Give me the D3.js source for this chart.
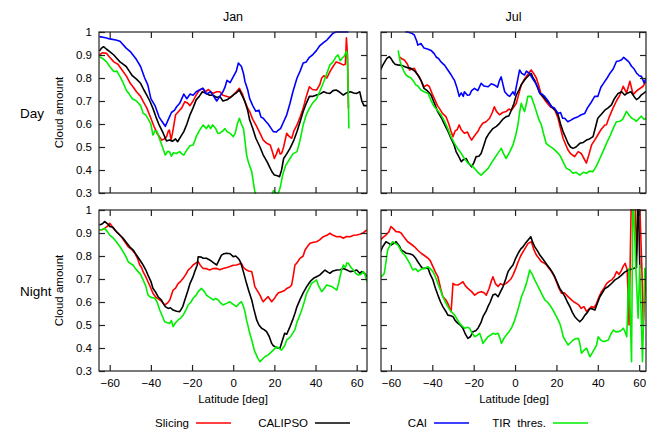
<!DOCTYPE html>
<html><head><meta charset="utf-8">
<script src="https://cdn.jsdelivr.net/npm/d3@7"></script>
<style>
body{margin:0;background:#fff}
svg{display:block}
text{font-family:"Liberation Sans",Arial,Helvetica,sans-serif;fill:#000}
</style>
</head><body>
<svg id="chart" width="647" height="434"></svg>
<script>
// ---------- data ----------
const latTicks = [-60, -40, -20, 0, 20, 40, 60];
const cloudTicks = [0.3, 0.4, 0.5, 0.6, 0.7, 0.8, 0.9, 1];
const columnTitles = ["Jan", "Jul"];
const rowTitles = ["Day", "Night"];
const seriesNames = ["Slicing", "CALIPSO", "CAI", "TIR  thres."];
const seriesColors = ["#ff0000", "#000000", "#0000ff", "#00ee00"];

// Jan, Day
const janDaySlicing = [[-65,0.90],[-63.5,0.91],[-61.5,0.907],[-60,0.89],[-58,0.87],[-56,0.86],[-53.5,0.828],[-52,0.81],[-50,0.777],[-48.5,0.76],[-47,0.74],[-45,0.72],[-43.7,0.697],[-42,0.67],[-40,0.625],[-38.5,0.59],[-37,0.56],[-35.5,0.54],[-34.7,0.53],[-33.5,0.535],[-32.4,0.545],[-31.5,0.57],[-31,0.574],[-30.2,0.53],[-29.5,0.56],[-28,0.64],[-27,0.65],[-26,0.66],[-25,0.67],[-23.5,0.697],[-22,0.69],[-21,0.68],[-19.5,0.70],[-18,0.726],[-16.5,0.745],[-15,0.755],[-13.5,0.74],[-12,0.75],[-10,0.733],[-8,0.74],[-6.5,0.74],[-5,0.725],[-3,0.72],[-1.5,0.715],[0,0.726],[1.5,0.74],[3,0.755],[4.5,0.73],[5.7,0.697],[7,0.67],[8,0.654],[9.5,0.62],[11,0.596],[13,0.56],[14.6,0.53],[16.5,0.515],[18,0.509],[19,0.48],[20,0.45],[21,0.47],[22,0.494],[22.8,0.47],[23.5,0.472],[24.5,0.50],[26,0.56],[27.3,0.545],[28.4,0.538],[29.5,0.57],[31,0.596],[32.5,0.63],[34,0.668],[35.5,0.72],[37,0.762],[38.5,0.75],[40.5,0.748],[42,0.77],[43,0.80],[44,0.81],[45.5,0.80],[47,0.828],[48.5,0.85],[50,0.87],[51.5,0.865],[53.5,0.857],[54.5,0.86],[55,0.975],[55.5,0.90],[56,0.668]];
const janDayCALIPSO = [[-65,0.917],[-64,0.93],[-63,0.936],[-61.5,0.925],[-60,0.915],[-58,0.90],[-56.5,0.885],[-55,0.87],[-53.5,0.86],[-52,0.85],[-50.5,0.83],[-49,0.81],[-47,0.795],[-45,0.777],[-43.5,0.75],[-42,0.726],[-40.5,0.70],[-39,0.668],[-37.5,0.63],[-36,0.596],[-34,0.56],[-32.4,0.526],[-31,0.53],[-29.5,0.525],[-28,0.535],[-27,0.523],[-25.5,0.545],[-24,0.567],[-22.5,0.60],[-21,0.64],[-19.5,0.67],[-18,0.705],[-16.5,0.72],[-15,0.74],[-13,0.733],[-11.5,0.725],[-10,0.726],[-8,0.715],[-6.5,0.72],[-5,0.70],[-3,0.705],[-1.5,0.715],[0,0.726],[1.5,0.735],[3,0.748],[4.5,0.72],[5.7,0.697],[7,0.66],[8,0.617],[9.5,0.58],[11,0.538],[13,0.50],[14.6,0.465],[16.5,0.435],[18,0.407],[19,0.39],[20,0.378],[21.5,0.375],[22.5,0.371],[23.5,0.40],[24.5,0.45],[26,0.47],[27.6,0.494],[29.5,0.53],[31,0.567],[32.5,0.61],[34,0.654],[35.5,0.69],[37,0.72],[38.5,0.72],[40.5,0.726],[42,0.73],[44,0.74],[45.5,0.735],[47,0.733],[48.5,0.745],[50,0.748],[51.5,0.74],[53.5,0.726],[55,0.735],[57,0.74],[58.5,0.735],[60,0.733],[61.5,0.74],[62.5,0.70],[63.5,0.68],[65,0.68]];
const janDayCAI = [[-65,0.98],[-62,0.975],[-60,0.97],[-57,0.965],[-55,0.96],[-52,0.93],[-50,0.915],[-47,0.88],[-45,0.85],[-43,0.80],[-41.5,0.77],[-40,0.71],[-38,0.68],[-36,0.63],[-34.5,0.61],[-33,0.59],[-31.5,0.62],[-30,0.65],[-28.5,0.66],[-27.5,0.675],[-26,0.69],[-24,0.73],[-22.5,0.71],[-21,0.73],[-19.5,0.725],[-18,0.74],[-16,0.75],[-14.6,0.755],[-13,0.73],[-11,0.74],[-9.5,0.72],[-8,0.70],[-6.5,0.72],[-5,0.74],[-4,0.76],[-3,0.79],[-1.5,0.78],[0,0.805],[1.5,0.83],[2.5,0.865],[4,0.85],[5,0.82],[5.7,0.785],[7,0.75],[8,0.71],[9.5,0.68],[11,0.655],[12.5,0.66],[13.5,0.63],[14.6,0.625],[16,0.61],[17,0.60],[18.5,0.58],[19.5,0.567],[21,0.565],[22,0.574],[23,0.58],[24,0.60],[26,0.64],[27.6,0.69],[29,0.74],[31,0.80],[32.5,0.83],[34,0.865],[35.5,0.87],[37,0.89],[38.5,0.90],[40.5,0.92],[42,0.94],[44,0.955],[45.5,0.965],[47,0.98],[48.5,0.995],[50,1.0],[53,1.0],[56,1.0]];
const janDayTIR = [[-65,0.893],[-63.5,0.885],[-61.5,0.87],[-60,0.85],[-58,0.828],[-56.5,0.83],[-55,0.806],[-53.5,0.78],[-52,0.748],[-50.5,0.73],[-49,0.71],[-47,0.70],[-45,0.68],[-43.7,0.646],[-42.5,0.64],[-41,0.617],[-40,0.60],[-39,0.552],[-38,0.57],[-37,0.567],[-36,0.54],[-35,0.516],[-34,0.49],[-33,0.465],[-32,0.48],[-31,0.48],[-30,0.46],[-29,0.475],[-27.6,0.472],[-26,0.48],[-25,0.47],[-24,0.465],[-23,0.48],[-22,0.494],[-21,0.505],[-19.5,0.509],[-18.5,0.53],[-18,0.545],[-16.5,0.57],[-14.6,0.596],[-13,0.58],[-12,0.595],[-11,0.58],[-10,0.596],[-8.5,0.58],[-7.5,0.56],[-6.5,0.56],[-5,0.57],[-4,0.58],[-3,0.567],[-1.5,0.56],[0,0.545],[1,0.56],[2,0.60],[3,0.625],[4,0.60],[5,0.58],[5.8,0.52],[6.5,0.465],[7.5,0.43],[9,0.393],[10.5,0.306],[12,0.27],[15,0.25],[18,0.27],[19.5,0.31],[20.5,0.30],[22,0.30],[23,0.33],[24,0.378],[25.5,0.42],[27.6,0.45],[29,0.47],[31,0.48],[32.5,0.53],[34,0.596],[35.5,0.64],[37,0.668],[38.5,0.69],[40.5,0.71],[42,0.74],[44,0.784],[45.5,0.82],[47,0.857],[48.5,0.87],[50,0.893],[51,0.90],[52,0.875],[53,0.887],[54,0.895],[55,0.917],[55.5,0.90],[56.2,0.58]];

// Jul, Day
const julDaySlicing = [[-56,0.893],[-55,0.885],[-53.5,0.878],[-52,0.86],[-51,0.835],[-49.5,0.84],[-48.7,0.842],[-47.5,0.82],[-46.3,0.806],[-45,0.78],[-44,0.762],[-42.5,0.77],[-41.4,0.762],[-40,0.73],[-39,0.71],[-37.5,0.68],[-36.6,0.668],[-35,0.645],[-33.4,0.632],[-32,0.60],[-31,0.57],[-30,0.545],[-29,0.57],[-28,0.575],[-27,0.596],[-26,0.575],[-24.5,0.56],[-23,0.565],[-22,0.545],[-21,0.53],[-19.5,0.55],[-18,0.567],[-17,0.585],[-15.6,0.603],[-14,0.61],[-12.3,0.625],[-11,0.65],[-10,0.675],[-9,0.655],[-7.5,0.64],[-6,0.65],[-4.3,0.654],[-3,0.665],[-1.8,0.66],[-0.5,0.675],[0.6,0.69],[1.8,0.73],[3,0.77],[4.2,0.79],[5.4,0.806],[6.5,0.82],[7.8,0.835],[9,0.82],[10.3,0.80],[11.5,0.765],[12.7,0.726],[14,0.71],[15,0.697],[17,0.675],[18.4,0.668],[19.5,0.655],[20.8,0.625],[22,0.58],[23.2,0.538],[24.5,0.51],[25.6,0.487],[27,0.47],[28.8,0.458],[30.5,0.48],[32,0.472],[33.3,0.45],[34.5,0.43],[35.8,0.47],[37,0.509],[38.5,0.53],[40,0.552],[41.5,0.575],[43.4,0.596],[44.2,0.597],[45.5,0.63],[47.4,0.67],[49,0.70],[50.7,0.727],[52.3,0.764],[53.9,0.735],[55.5,0.786],[57.1,0.727],[58.3,0.74],[59.5,0.749],[61.9,0.764],[63.3,0.786]];
const julDayCALIPSO = [[-65,0.835],[-64,0.855],[-63,0.87],[-62,0.885],[-60.8,0.893],[-60,0.885],[-59,0.87],[-58,0.86],[-56.8,0.857],[-55,0.855],[-53.5,0.85],[-52,0.845],[-50.3,0.842],[-48.5,0.83],[-47,0.813],[-45.5,0.79],[-44,0.755],[-42.5,0.745],[-40.6,0.726],[-39,0.69],[-37.4,0.654],[-35.5,0.625],[-34,0.596],[-32.5,0.57],[-31,0.538],[-29.5,0.51],[-28.5,0.48],[-27,0.455],[-26,0.436],[-25,0.445],[-23.6,0.45],[-22.5,0.43],[-21,0.414],[-20,0.43],[-18.8,0.458],[-17.5,0.46],[-16.4,0.472],[-15,0.51],[-14,0.538],[-12.5,0.56],[-10.7,0.58],[-9,0.59],[-7.5,0.603],[-6,0.62],[-4.3,0.632],[-3,0.635],[-1.8,0.66],[-0.5,0.69],[0.6,0.726],[2,0.75],[3,0.77],[4.5,0.79],[5.4,0.80],[6.5,0.81],[7.8,0.82],[8.7,0.80],[9.5,0.79],[10.8,0.76],[12,0.733],[13.5,0.72],[15,0.705],[17,0.685],[18.4,0.668],[19.5,0.66],[20.8,0.64],[22,0.60],[23.2,0.567],[24.5,0.54],[25.6,0.516],[26.8,0.50],[28,0.494],[29.5,0.50],[31.3,0.516],[33,0.52],[34.5,0.53],[36,0.535],[37.7,0.545],[39,0.59],[40,0.625],[41.5,0.64],[43.4,0.66],[45,0.67],[46.6,0.683],[48,0.71],[49.8,0.733],[51.5,0.74],[53,0.726],[54.5,0.735],[56,0.74],[57.5,0.72],[58.7,0.706],[60,0.715],[61.1,0.727],[62.4,0.735],[63.3,0.742]];
const julDayCAI = [[-53,1.0],[-51.9,1.0],[-50,0.995],[-48.7,0.987],[-47.5,0.96],[-47,0.943],[-45.5,0.95],[-44,0.93],[-42,0.925],[-40.6,0.92],[-39,0.905],[-38,0.89],[-37,0.885],[-35.8,0.87],[-34,0.855],[-32.5,0.835],[-31,0.815],[-29.3,0.79],[-28,0.755],[-27,0.72],[-26,0.735],[-25,0.72],[-24.5,0.74],[-23,0.725],[-22,0.726],[-21,0.745],[-19.6,0.755],[-18,0.745],[-16.4,0.777],[-15,0.765],[-13,0.762],[-11.5,0.775],[-10,0.77],[-8.5,0.76],[-7.5,0.79],[-6.7,0.805],[-5.8,0.77],[-5,0.74],[-3.5,0.725],[-2.6,0.72],[-1,0.74],[-0.2,0.726],[1,0.78],[2.2,0.835],[3.2,0.82],[4.6,0.813],[5.5,0.83],[7,0.82],[8.3,0.80],[9.5,0.784],[11,0.76],[12,0.733],[13,0.73],[14.3,0.72],[16,0.70],[17.5,0.675],[19,0.67],[20.8,0.646],[22,0.65],[23,0.625],[24,0.625],[25.5,0.61],[27,0.617],[28.5,0.625],[30.5,0.632],[32,0.64],[33.7,0.646],[35,0.67],[37,0.697],[38.5,0.72],[40,0.72],[41.5,0.76],[43,0.78],[44.5,0.80],[46,0.822],[47.5,0.84],[49,0.872],[50.5,0.875],[51.5,0.879],[52.5,0.89],[53.9,0.879],[55,0.87],[56.3,0.851],[57.5,0.84],[58.7,0.822],[60,0.81],[61.1,0.807],[62.4,0.778],[63.3,0.80]];
const julDayTIR = [[-56.5,0.92],[-55.5,0.87],[-55,0.857],[-53.8,0.83],[-52.7,0.813],[-51.5,0.805],[-50.3,0.80],[-49,0.785],[-48,0.77],[-47,0.765],[-45.5,0.748],[-44,0.74],[-42,0.733],[-40.5,0.70],[-39,0.675],[-37.5,0.66],[-35.8,0.64],[-34,0.61],[-32.5,0.58],[-31,0.545],[-29.3,0.516],[-27.5,0.49],[-26,0.472],[-24.5,0.45],[-22.8,0.43],[-21,0.42],[-19.6,0.407],[-18,0.39],[-16.4,0.378],[-15,0.39],[-13,0.407],[-11.5,0.43],[-10,0.45],[-8.5,0.47],[-6.7,0.494],[-5.5,0.47],[-4.3,0.45],[-2.5,0.48],[-1,0.509],[0.3,0.55],[1.4,0.596],[2.2,0.65],[3,0.69],[3.8,0.67],[4.6,0.654],[5.5,0.69],[6.2,0.72],[7.8,0.72],[9,0.69],[10.3,0.654],[11.5,0.62],[12.7,0.596],[14,0.55],[15,0.516],[16.5,0.505],[18.4,0.494],[20,0.48],[21.6,0.465],[23,0.44],[24.8,0.407],[26.5,0.40],[28,0.386],[29.5,0.39],[31.3,0.378],[33,0.39],[34.5,0.386],[36,0.395],[37.7,0.393],[39.5,0.42],[41,0.45],[42.5,0.48],[44.2,0.516],[46,0.55],[47.4,0.58],[49,0.61],[50.7,0.612],[52,0.62],[53.9,0.655],[55,0.64],[56.3,0.626],[57.5,0.62],[58.7,0.612],[60,0.625],[61.1,0.634],[62.4,0.62],[63.3,0.625]];

// Jan, Night
const janNightSlicing = [[-65,0.913],[-63.5,0.915],[-62.5,0.92],[-61,0.93],[-60,0.942],[-59,0.93],[-57.6,0.913],[-56,0.90],[-54.3,0.884],[-52.5,0.86],[-51,0.84],[-49.5,0.83],[-47.8,0.812],[-46.5,0.79],[-45.4,0.761],[-44.5,0.75],[-43.8,0.732],[-42.5,0.71],[-41.4,0.688],[-40,0.66],[-39,0.638],[-37.5,0.62],[-35.7,0.609],[-34.5,0.60],[-33.3,0.587],[-32,0.595],[-30.8,0.609],[-30,0.63],[-29.2,0.652],[-28,0.66],[-26.8,0.68],[-25.5,0.69],[-24.3,0.703],[-23,0.72],[-21.9,0.739],[-20.5,0.75],[-19.5,0.761],[-18,0.77],[-17,0.775],[-16,0.76],[-14.6,0.746],[-13,0.745],[-11.4,0.739],[-10,0.745],[-8,0.746],[-6.5,0.74],[-4.9,0.746],[-3,0.75],[-1.6,0.754],[0,0.76],[1.6,0.761],[3,0.765],[4,0.768],[5,0.75],[6.5,0.739],[7.5,0.735],[9,0.732],[9.8,0.70],[10.5,0.667],[12,0.645],[13,0.63],[14,0.61],[14.6,0.601],[16,0.615],[17,0.623],[18,0.61],[18.7,0.601],[20,0.615],[21,0.63],[22,0.64],[23.5,0.645],[25,0.65],[26,0.659],[27.5,0.665],[28.4,0.674],[29.3,0.72],[30,0.761],[31,0.77],[32.4,0.79],[34,0.80],[34.9,0.826],[36,0.84],[37.3,0.855],[39,0.86],[40.5,0.862],[42,0.87],[43.8,0.884],[45.5,0.89],[47,0.899],[48.5,0.89],[50.3,0.884],[52,0.885],[53.5,0.877],[55,0.885],[56.8,0.884],[58.5,0.89],[60,0.891],[61.5,0.895],[63,0.90],[65,0.913]];
const janNightCALIPSO = [[-65,0.935],[-63.5,0.94],[-62.5,0.95],[-61,0.94],[-60,0.928],[-58.5,0.925],[-56.8,0.906],[-55,0.89],[-53.5,0.877],[-52,0.86],[-50.3,0.84],[-48.5,0.825],[-47,0.804],[-45.5,0.785],[-43.8,0.761],[-42.5,0.74],[-41.4,0.717],[-40,0.69],[-39,0.66],[-37.5,0.64],[-36.5,0.623],[-35,0.61],[-34,0.594],[-33,0.58],[-31.6,0.572],[-30.5,0.575],[-29.2,0.565],[-27.5,0.56],[-26,0.558],[-24.5,0.58],[-23.5,0.609],[-22,0.65],[-21,0.68],[-19.5,0.71],[-18.7,0.732],[-17.5,0.76],[-17,0.797],[-15.5,0.795],[-14.6,0.79],[-13,0.79],[-11.4,0.783],[-9.5,0.77],[-8,0.761],[-7,0.78],[-5.7,0.804],[-4.5,0.81],[-3.2,0.812],[-1.5,0.81],[0,0.797],[1.2,0.80],[2.4,0.79],[3.2,0.78],[4,0.761],[5,0.73],[6.5,0.68],[7.5,0.65],[9,0.609],[10,0.57],[11.4,0.522],[12.5,0.50],[13.8,0.486],[15,0.48],[16.2,0.471],[17.5,0.45],[18.7,0.42],[19.5,0.41],[20.3,0.406],[21.5,0.40],[22.7,0.399],[23.8,0.43],[25,0.464],[26,0.46],[27.6,0.493],[28.8,0.52],[30,0.551],[31,0.58],[32.4,0.609],[34,0.64],[35.7,0.667],[37.5,0.69],[39,0.703],[40.5,0.71],[42,0.717],[43.5,0.73],[44.6,0.739],[46,0.73],[47,0.725],[48.5,0.735],[50.3,0.739],[52,0.74],[53.5,0.746],[55,0.74],[56.8,0.732],[58.5,0.735],[60,0.739],[61.5,0.725],[62.5,0.732],[63.8,0.725],[65,0.71]];
const janNightTIR = [[-65,0.913],[-63.5,0.915],[-62.5,0.92],[-61,0.905],[-60,0.891],[-58.5,0.88],[-56.8,0.862],[-55,0.84],[-53.5,0.819],[-52,0.795],[-51,0.775],[-49.5,0.765],[-48.7,0.761],[-47.5,0.745],[-46.2,0.732],[-45,0.72],[-43.8,0.696],[-42.5,0.67],[-41.4,0.63],[-40,0.62],[-38,0.616],[-37,0.60],[-35.7,0.565],[-34.5,0.54],[-33.3,0.514],[-32,0.51],[-30.8,0.507],[-30,0.52],[-29.2,0.493],[-28,0.51],[-26.8,0.522],[-25.5,0.53],[-24.3,0.543],[-23,0.565],[-21.9,0.587],[-20.5,0.60],[-19.5,0.616],[-18,0.63],[-17,0.645],[-15.4,0.659],[-14,0.645],[-13,0.63],[-11.5,0.62],[-9.7,0.609],[-8.5,0.615],[-7.3,0.609],[-6,0.595],[-4.9,0.587],[-3,0.595],[-1.6,0.601],[0,0.59],[1.6,0.58],[3,0.595],[4,0.601],[5,0.58],[5.7,0.558],[6.5,0.52],[7.3,0.493],[8,0.465],[9,0.435],[10,0.40],[10.5,0.384],[12,0.355],[13,0.341],[14,0.35],[15.4,0.362],[17,0.37],[18.7,0.384],[20,0.395],[21,0.406],[22,0.40],[23.5,0.391],[25,0.41],[26,0.435],[27.5,0.445],[28.4,0.457],[30,0.48],[30.8,0.507],[32,0.535],[33.3,0.565],[34.5,0.60],[35.7,0.638],[37,0.66],[38,0.681],[39.5,0.69],[40.5,0.696],[41.5,0.67],[43,0.645],[44.3,0.66],[45.4,0.674],[47,0.67],[47.9,0.667],[49,0.66],[50.3,0.652],[51.2,0.68],[51.9,0.71],[52.7,0.74],[53.5,0.761],[54.5,0.75],[55.2,0.77],[56,0.768],[57.2,0.75],[58.4,0.739],[59.5,0.725],[60.8,0.717],[62,0.72],[63.3,0.732],[64,0.72],[65,0.688]];

// Jul, Night
const julNightSlicing = [[-65,0.87],[-64,0.88],[-62.4,0.891],[-61,0.905],[-60,0.928],[-59,0.92],[-57.5,0.906],[-56,0.905],[-55,0.899],[-53.5,0.88],[-51.9,0.862],[-50,0.85],[-48.6,0.84],[-47,0.825],[-45.4,0.812],[-43.5,0.80],[-42,0.79],[-41,0.78],[-39.7,0.754],[-38.5,0.73],[-37.3,0.71],[-36,0.66],[-34.9,0.623],[-33.5,0.61],[-32.5,0.594],[-31.5,0.57],[-30.9,0.558],[-30,0.681],[-29,0.675],[-27.6,0.674],[-26.5,0.68],[-25.2,0.688],[-24,0.67],[-22.8,0.659],[-21,0.645],[-19.5,0.63],[-18,0.64],[-16.3,0.645],[-15,0.64],[-13.9,0.63],[-12.5,0.66],[-11.5,0.69],[-10.7,0.71],[-9.5,0.68],[-8.2,0.667],[-7,0.68],[-5.8,0.674],[-4.5,0.68],[-3.4,0.688],[-2,0.70],[-1,0.717],[0.3,0.745],[1.5,0.775],[2.7,0.80],[3.9,0.819],[5,0.835],[6.3,0.855],[7.9,0.862],[9,0.83],[10.3,0.804],[11.5,0.79],[12.8,0.775],[14,0.77],[15.2,0.761],[16.5,0.745],[17.6,0.732],[19,0.71],[20,0.688],[21.2,0.66],[22.5,0.638],[23.8,0.64],[24.9,0.63],[26,0.62],[27.3,0.609],[28.5,0.60],[29.7,0.594],[31,0.585],[32,0.572],[33.3,0.58],[34.6,0.558],[35.8,0.57],[37,0.58],[38.2,0.575],[39.4,0.594],[40.5,0.62],[41.8,0.645],[43,0.66],[44.3,0.681],[45.5,0.69],[46.7,0.696],[48,0.71],[49.1,0.732],[50.3,0.72],[51.5,0.739],[52.2,0.754],[53.2,0.768],[54.2,0.74],[55.1,0.5],[56.3,1.1],[57.9,1.1],[58.7,0.804],[60,1.1],[61.3,0.746],[62,0.5],[63.3,0.73]];
const julNightCALIPSO = [[-65,0.819],[-64,0.84],[-62.4,0.862],[-61,0.855],[-60,0.848],[-58.5,0.855],[-57.5,0.862],[-56,0.845],[-55,0.826],[-53.5,0.818],[-52.6,0.812],[-51,0.81],[-49.4,0.804],[-48,0.79],[-47,0.775],[-45.5,0.755],[-44.6,0.746],[-43,0.748],[-42,0.746],[-41,0.72],[-39.7,0.696],[-38.5,0.66],[-37.3,0.63],[-36,0.60],[-34.9,0.58],[-33.5,0.56],[-32.5,0.543],[-31,0.54],[-30,0.536],[-29,0.52],[-27.6,0.507],[-26.5,0.50],[-25.2,0.486],[-24,0.46],[-22.8,0.442],[-21.5,0.45],[-20.4,0.471],[-19,0.475],[-17.9,0.486],[-16.5,0.51],[-15.5,0.536],[-14,0.56],[-13.1,0.58],[-12,0.60],[-10.7,0.63],[-9.5,0.635],[-8.2,0.623],[-7,0.645],[-5.8,0.667],[-4.5,0.70],[-3.4,0.732],[-2,0.75],[-1,0.761],[0.3,0.79],[1.5,0.812],[2.7,0.83],[3.9,0.841],[5,0.855],[6.3,0.87],[7.6,0.884],[8.5,0.86],[9.5,0.841],[11,0.82],[12,0.804],[13.2,0.79],[14.4,0.775],[15.6,0.76],[16.8,0.746],[18,0.73],[19.2,0.71],[20.4,0.685],[21.6,0.659],[23,0.64],[24.1,0.623],[25.3,0.60],[26.5,0.58],[27.7,0.555],[28.9,0.536],[30,0.525],[31.3,0.514],[32.5,0.525],[33.8,0.543],[35,0.555],[36.2,0.572],[37.4,0.57],[38.6,0.565],[39.8,0.595],[41,0.623],[42.2,0.64],[43.5,0.659],[44.7,0.665],[45.9,0.674],[47.1,0.685],[48.3,0.696],[49.9,0.705],[51.5,0.717],[53,0.73],[54.8,0.739],[56.3,0.742],[57.2,0.746],[58.7,0.75],[59.5,1.1],[60.3,0.746]];
const julNightTIR = [[-65,0.71],[-64,0.715],[-63.2,0.725],[-62.3,0.78],[-61.6,0.826],[-60.5,0.845],[-59.2,0.862],[-58,0.855],[-56.7,0.848],[-55.5,0.83],[-54.3,0.812],[-53,0.80],[-51.9,0.783],[-50.5,0.76],[-49.4,0.739],[-48,0.745],[-47,0.732],[-45.8,0.74],[-44.6,0.746],[-43.5,0.745],[-42.2,0.754],[-41,0.745],[-39.7,0.732],[-38.5,0.71],[-37.3,0.681],[-36,0.65],[-34.9,0.623],[-33.7,0.60],[-32.5,0.58],[-31,0.56],[-29.2,0.543],[-28,0.525],[-26.8,0.507],[-25.5,0.495],[-24.4,0.486],[-23,0.49],[-22,0.486],[-20.8,0.465],[-19.5,0.449],[-18.3,0.455],[-17.1,0.464],[-16.2,0.44],[-15.5,0.42],[-14.3,0.435],[-13.1,0.449],[-12,0.455],[-10.7,0.464],[-9.5,0.46],[-8.2,0.464],[-7.4,0.445],[-6.6,0.42],[-5.5,0.44],[-4.2,0.457],[-3,0.47],[-1.8,0.486],[-0.6,0.51],[0.6,0.543],[1.8,0.58],[3.1,0.623],[4.3,0.65],[5.5,0.681],[6.3,0.71],[7.1,0.739],[8.3,0.72],[9.5,0.696],[10.7,0.675],[12,0.652],[13.2,0.63],[14.4,0.609],[15.6,0.60],[16.8,0.587],[18,0.57],[19.2,0.551],[20.4,0.53],[21.6,0.507],[22.5,0.48],[23.3,0.449],[24.5,0.43],[25.7,0.413],[27,0.425],[28.1,0.435],[29.3,0.44],[30.6,0.442],[31.3,0.42],[32.1,0.377],[33.3,0.39],[34.6,0.399],[35.4,0.38],[36.2,0.362],[37.4,0.38],[38.6,0.399],[39.4,0.413],[40.2,0.449],[41.4,0.435],[42.6,0.428],[43.8,0.43],[45.1,0.435],[46.3,0.46],[47.5,0.478],[48.7,0.47],[49.9,0.471],[51.1,0.475],[52.3,0.486],[53.2,0.47],[54,0.449],[55.1,0.746],[56.3,0.34],[57,1.1],[58.4,0.746],[59.5,0.53],[60.3,0.76],[61.6,0.34],[62.7,0.746],[63.3,0.70]];

// ---------- layout ----------
const svg = d3.select("#chart");
const rows = [{y0: 32, y1: 193}, {y0: 210, y1: 371}];
const cols = [{x0: 99, x1: 367, dom: [-65.2, 65]}, {x0: 381, x1: 646, dom: [-64.8, 63.3]}];
const panelSeries = [
  [[janDaySlicing, janDayCALIPSO, janDayCAI, janDayTIR], [julDaySlicing, julDayCALIPSO, julDayCAI, julDayTIR]],
  [[janNightSlicing, janNightCALIPSO, null, janNightTIR], [julNightSlicing, julNightCALIPSO, null, julNightTIR]]
];
const frameColor = "#222";

rows.forEach((r, ri) => {
  cols.forEach((c, ci) => {
    const x = d3.scaleLinear().domain(c.dom).range([c.x0, c.x1]);
    const y = d3.scaleLinear().domain([0.3, 1]).range([r.y1, r.y0]);
    const g = svg.append("g");
    const clipId = `clip${ri}${ci}`;
    svg.append("clipPath").attr("id", clipId).append("rect")
      .attr("x", c.x0).attr("y", r.y0 - 1).attr("width", c.x1 - c.x0).attr("height", r.y1 - r.y0 + 2);

    const line = d3.line().x(d => x(d[0])).y(d => y(d[1]));
    const lg = g.append("g").attr("clip-path", `url(#${clipId})`);
    panelSeries[ri][ci].forEach((s, si) => {
      if (!s) return;
      lg.append("path").datum(s).attr("d", line)
        .attr("fill", "none").attr("stroke", seriesColors[si])
        .attr("stroke-width", 1.6).attr("stroke-linejoin", "round");
    });

    const bottom = d3.axisBottom(x).tickValues(latTicks).tickSizeInner(-6).tickSizeOuter(0).tickPadding(8)
      .tickFormat(ri === 1 ? d3.format("d") : () => "");
    const top = d3.axisTop(x).tickValues(latTicks).tickSizeInner(-6).tickSizeOuter(0).tickFormat(() => "");
    const left = d3.axisLeft(y).tickValues(cloudTicks).tickSizeInner(-6).tickSizeOuter(0).tickPadding(7)
      .tickFormat(ci === 0 ? (d => d === 1 ? "1" : d3.format(".1f")(d)) : () => "");
    const right = d3.axisRight(y).tickValues(cloudTicks).tickSizeInner(-6).tickSizeOuter(0).tickFormat(() => "");

    [[bottom, `translate(0,${r.y1})`], [top, `translate(0,${r.y0})`],
     [left, `translate(${c.x0},0)`], [right, `translate(${c.x1},0)`]].forEach(([ax, tr]) => {
      const a = g.append("g").attr("transform", tr).call(ax);
      a.select(".domain").remove();
      a.selectAll("line").attr("stroke", frameColor).attr("stroke-width", 1.2);
      a.selectAll("text").attr("font-size", 11.5).attr("fill", "#000")
        .style("font-family", '"Liberation Sans", Arial, sans-serif');
    });

    g.append("rect").attr("x", c.x0).attr("y", r.y0).attr("width", c.x1 - c.x0).attr("height", r.y1 - r.y0)
      .attr("fill", "none").attr("stroke", frameColor).attr("stroke-width", 1.2);

    if (ci === 0) {
      g.append("text").attr("transform", `translate(63,${(r.y0 + r.y1) / 2}) rotate(-90)`)
        .attr("text-anchor", "middle").attr("font-size", 11.5).text("Cloud amount");
      g.append("text").attr("x", 20).attr("y", (r.y0 + r.y1) / 2 + 5)
        .attr("font-size", 13.5).text(rowTitles[ri]);
    }
    if (ri === 0) {
      svg.append("text").attr("x", (c.x0 + c.x1) / 2).attr("y", 21)
        .attr("text-anchor", "middle").attr("font-size", 12.5).text(columnTitles[ci]);
    }
    if (ri === 1) {
      svg.append("text").attr("x", ci === 0 ? 233 : 514).attr("y", 403)
        .attr("text-anchor", "middle").attr("font-size", 11.5).text("Latitude [deg]");
    }
  });
});

// legend
const legendLineStarts = [196, 315, 434, 553];
seriesNames.forEach((name, i) => {
  const lx = legendLineStarts[i];
  svg.append("text").attr("x", lx - 7).attr("y", 427).attr("text-anchor", "end")
    .attr("font-size", 11.5).style("white-space", "pre").text(name);
  svg.append("line").attr("x1", lx).attr("x2", lx + 35).attr("y1", 423).attr("y2", 423)
    .attr("stroke", seriesColors[i]).attr("stroke-width", 1.6);
});
</script>
</body></html>
